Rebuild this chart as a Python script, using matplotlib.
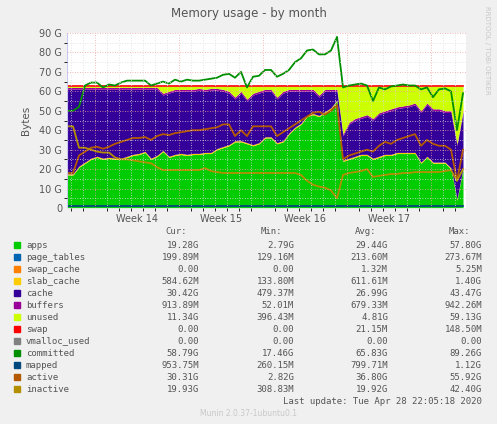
import numpy as np
import matplotlib.pyplot as plt

# time axis in days, one sample every half day
days = np.arange(0, 33.5, 0.5)

apps = [17, 17, 21, 23, 25, 26, 25, 25.5, 25, 25, 26, 27, 27.5, 28.5, 25, 26.5, 29, 26, 27, 27.5,
        27, 27.5, 27.5, 28, 28, 30, 31, 32, 34, 34, 33, 32, 33, 36, 36, 33, 34, 38, 41, 43,
        47, 48, 47, 49, 51, 55, 24, 25, 26, 27, 27, 25, 26, 27, 27, 28, 28, 28, 28, 23,
        26, 23, 23, 23, 20, 4, 20]
used_top = [62, 62, 62, 62, 62, 62, 62, 62, 62, 62, 62, 62, 62, 62, 62, 62, 59, 60, 61, 61,
            61, 61, 61.5, 61, 61.5, 61.5, 61, 60, 57, 60, 56, 59, 60, 61, 61, 57, 60, 61, 61, 61,
            61, 61, 58, 61, 61, 61, 38, 44, 46, 47, 48, 46, 49, 50, 51, 52, 52.5, 53, 54, 50,
            54, 51, 51, 50, 50, 33, 50]
committed = [50, 50, 52, 63, 64.5, 64.5, 62, 63.5, 63, 64.5, 65.5, 65.5, 65.5, 65.5, 63, 64, 65, 64, 66, 65,
             66, 65.5, 65.5, 66, 66.5, 67, 68.5, 69, 67, 70, 62, 67.5, 68, 71, 71, 67.5, 69, 71, 75, 77,
             81, 81.5, 79, 79, 81, 88, 62, 63, 63.5, 64, 63, 55, 62, 61, 62.5, 63, 63.5, 63, 63, 61,
             62, 57, 61, 61.5, 60, 40, 59]
active = [18, 18, 27, 29, 31, 31.5, 30.5, 31.5, 33, 34, 35, 36, 36, 36.5, 35, 37, 38, 37.5, 38.5, 39,
          39.5, 40, 40, 40.5, 41, 41.5, 43, 43, 37, 40, 37, 42, 42, 42, 42, 37, 39, 41, 43, 45,
          47, 49, 49.5, 48, 50, 53, 25, 27, 28, 29, 30, 29, 32, 34, 33, 35, 36, 37, 38, 32,
          35, 33, 32, 32, 30, 14, 30]
inactive = [42, 42, 31, 31, 30, 29, 28.5, 28.5, 26, 25, 25, 24.5, 24, 23.5, 23, 21, 19.5, 19.5, 19.5, 19.5,
            19.5, 19.5, 19.5, 20.5, 19, 18.5, 18, 18, 18, 18, 18, 18, 18, 18, 18, 18, 18, 18, 18, 17,
            14, 12, 11, 10.5, 9, 5, 17, 18, 18.5, 19, 20, 16, 16.5, 17, 17.5, 17.5, 18, 18, 18.5, 18.5,
            18.5, 18.5, 18.5, 19, 19.5, 14, 20]
total_ram = 62.6
page_tables = 0.2
slab_cache = 0.6
buffers = 0.9
mapped = 1.0

week_labels = ["Week 14", "Week 15", "Week 16", "Week 17"]
week_starts = [2.33, 9.33, 16.33, 23.33, 30.33]

legend_rows = [
    ("apps", "#00CC00", "19.28G", "2.79G", "29.44G", "57.80G"),
    ("page_tables", "#0066B3", "199.89M", "129.16M", "213.60M", "273.67M"),
    ("swap_cache", "#FF8000", "0.00", "0.00", "1.32M", "5.25M"),
    ("slab_cache", "#FFCC00", "584.62M", "133.80M", "611.61M", "1.40G"),
    ("cache", "#330099", "30.42G", "479.37M", "26.99G", "43.47G"),
    ("buffers", "#990099", "913.89M", "52.01M", "679.33M", "942.26M"),
    ("unused", "#CCFF00", "11.34G", "396.43M", "4.81G", "59.13G"),
    ("swap", "#FF0000", "0.00", "0.00", "21.15M", "148.50M"),
    ("vmalloc_used", "#808080", "0.00", "0.00", "0.00", "0.00"),
    ("committed", "#008F00", "58.79G", "17.46G", "65.83G", "89.26G"),
    ("mapped", "#00487D", "953.75M", "260.15M", "799.71M", "1.12G"),
    ("active", "#B35A00", "30.31G", "2.82G", "36.80G", "55.92G"),
    ("inactive", "#B38F00", "19.93G", "308.83M", "19.92G", "42.40G"),
]

apps = np.array(apps)
used_top = np.array(used_top)
n = len(days)

fig = plt.figure(figsize=(4.97, 4.24), dpi=100, facecolor="#F0F0F0")
ax = fig.add_axes([67 / 497, 1 - 208 / 424, 399 / 497, 175 / 424])
ax.set_facecolor("white")

# stacked areas
base = np.zeros(n)
layers = [
    (np.full(n, page_tables), "#0066B3"),
    (apps - page_tables, "#00CC00"),
    (np.full(n, slab_cache), "#FFCC00"),
    (used_top - apps - slab_cache - buffers, "#330099"),
    (np.full(n, buffers), "#990099"),
    (total_ram - used_top, "#CCFF00"),
]
for vals, col in layers:
    ax.fill_between(days, base, base + vals, color=col, lw=0)
    base = base + vals
ax.plot(days, base + 0.2, color="#FF0000", lw=1.2)

ax.plot(days, committed, color="#008F00", lw=1.3)
ax.plot(days, active, color="#B35A00", lw=1.3)
ax.plot(days, inactive, color="#B38F00", lw=1.3)
ax.plot(days, np.full(n, mapped), color="#00487D", lw=1.3)

ax.set_xlim(0, 33.25)
ax.set_ylim(0, 90)
ax.set_yticks(np.arange(0, 91, 10))
ax.set_yticklabels([f"{v} G" if v else "0" for v in range(0, 91, 10)])
ax.set_yticks(np.arange(0, 91, 5), minor=True)
ax.set_xticks(week_starts)
ax.set_xticklabels([])
ax.set_xticks(np.arange(0.33, 33.25, 1), minor=True)
for i, lab in enumerate(week_labels):
    ax.text((week_starts[i] + week_starts[i + 1]) / 2, -3, lab, ha="center", va="top",
            fontsize=7, color="#555555")
ax.grid(which="minor", color="#DDDDDD", ls=(0, (1, 2)), lw=0.6)
ax.grid(which="major", color="#F0A0A0", ls=(0, (1, 2)), lw=0.6)
ax.set_axisbelow(False)
ax.tick_params(length=0, labelsize=7, colors="#555555")
for s in ax.spines.values():
    s.set_visible(False)
ax.axhline(0, color="#C8C8F0", lw=0.8)
ax.axvline(0, color="#C8C8F0", lw=0.8)
ax.set_ylabel("Bytes", fontsize=7.5, color="#555555", labelpad=6)

fig.text(0.5, 1 - 13 / 424, "Memory usage - by month", ha="center", va="center",
         fontsize=8.5, color="#555555")
fig.text(487 / 497, 1 - 6 / 424, "RRDTOOL / TOBI OETIKER", rotation=270, ha="center",
         va="top", fontsize=5, color="#C8C8C8")

mono = "DejaVu Sans Mono"
hy = 1 - 232 / 424
for x, h in [(199, "Cur:"), (294, "Min:"), (388, "Avg:"), (482, "Max:")]:
    fig.text((x - 12) / 497, hy, h, ha="right", va="center", fontsize=6.5, family=mono, color="#555555")
for i, (name, col, cur, mn, avg, mx) in enumerate(legend_rows):
    y = 1 - (245 + 12 * i) / 424
    fig.patches.append(plt.Rectangle((14 / 497, y - 2.7 / 424), 5.5 / 497, 5.5 / 424,
                                     color=col, transform=fig.transFigure))
    fig.text(26 / 497, y, name, ha="left", va="center", fontsize=6.5, family=mono, color="#555555")
    for x, v in [(199, cur), (294, mn), (388, avg), (482, mx)]:
        fig.text(x / 497, y, v, ha="right", va="center", fontsize=6.5, family=mono, color="#555555")
fig.text(482 / 497, 1 - 401 / 424, "Last update: Tue Apr 28 22:05:18 2020", ha="right",
         va="center", fontsize=6.5, family=mono, color="#555555")
fig.text(248 / 497, 1 - 413 / 424, "Munin 2.0.37-1ubuntu0.1", ha="center", va="center",
         fontsize=5.5, color="#C8C8C8")

fig.savefig("out.png", dpi=100, facecolor=fig.get_facecolor())
